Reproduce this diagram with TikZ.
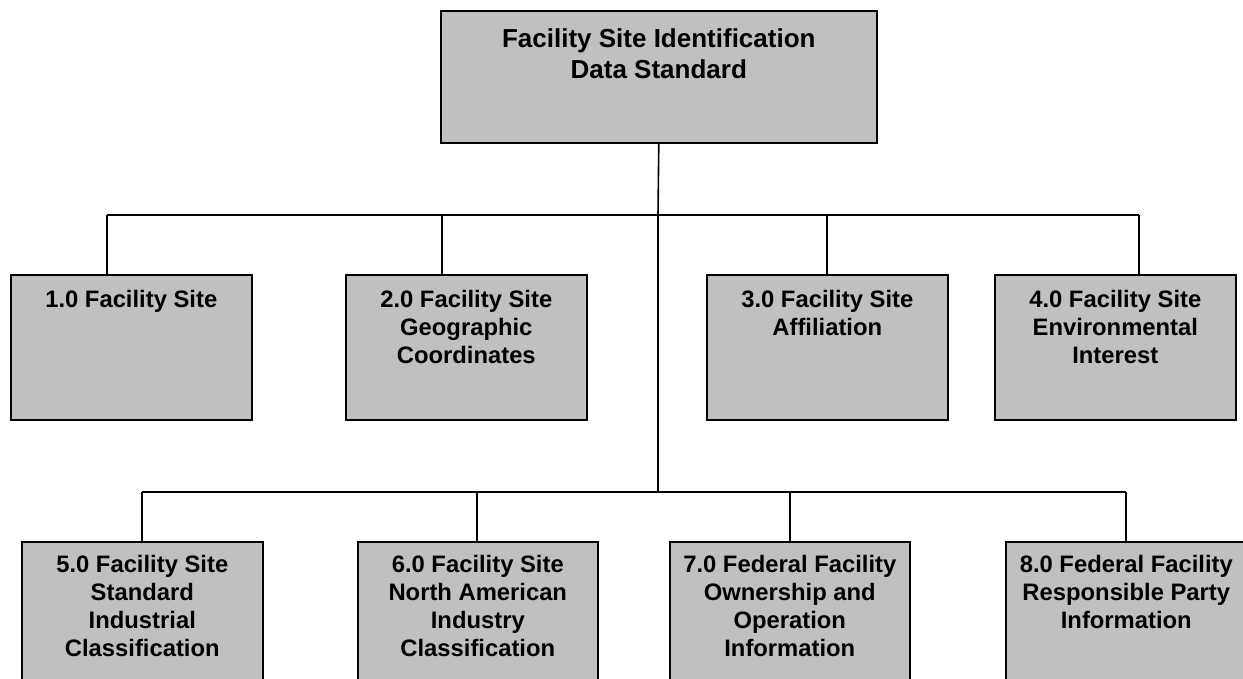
\documentclass[tikz,border=0pt]{standalone}
\usepackage{fontspec}
\setmainfont{Liberation Sans}
\usetikzlibrary{positioning}
\definecolor{boxgray}{RGB}{192,192,192}
\begin{document}
\begin{tikzpicture}[x=1pt,y=-1pt,
  box/.style={draw=black,fill=boxgray,line width=1.6pt,inner sep=0pt,anchor=north west},
  lbl/.style={font=\bfseries\fontsize{23.8}{28}\selectfont,align=center,inner sep=0pt},
  toplbl/.style={font=\bfseries\fontsize{26}{31}\selectfont,align=center,inner sep=0pt},
  conn/.style={line width=1.6pt}]
\fill[white] (0,0) rectangle (1243,679);
\useasboundingbox (0,0) rectangle (1243,679);
\clip (0,0) rectangle (1243,679);
% boxes
\node[box,minimum width=436pt,minimum height=132pt] (top) at (440,10) {};
\node[box,minimum width=241pt,minimum height=145pt] (b1) at (10,274) {};
\node[box,minimum width=241pt,minimum height=145pt] (b2) at (345,274) {};
\node[box,minimum width=241pt,minimum height=145pt] (b3) at (706,274) {};
\node[box,minimum width=241pt,minimum height=145pt] (b4) at (994,274) {};
\node[box,minimum width=241pt,minimum height=160pt] (b5) at (21,541) {};
\node[box,minimum width=240pt,minimum height=160pt] (b6) at (357,541) {};
\node[box,minimum width=240pt,minimum height=160pt] (b7) at (669,541) {};
\node[box,minimum width=241pt,minimum height=160pt] (b8) at (1005,541) {};
% labels
\node[toplbl,below=18pt of top.north] (topt) {Facility Site Identification\\Data Standard};
\node[lbl,below=16.5pt of b1.north] (b1t) {1.0 Facility Site};
\node[lbl,below=16.5pt of b2.north] (b2t) {2.0 Facility Site\\Geographic\\Coordinates};
\node[lbl,below=16.5pt of b3.north] (b3t) {3.0 Facility Site\\Affiliation};
\node[lbl,below=16.5pt of b4.north] (b4t) {4.0 Facility Site\\Environmental\\Interest};
\node[lbl,below=14.5pt of b5.north] (b5t) {5.0 Facility Site\\Standard\\Industrial\\Classification};
\node[lbl,below=14.5pt of b6.north] (b6t) {6.0 Facility Site\\North American\\Industry\\Classification};
\node[lbl,below=14.5pt of b7.north] (b7t) {7.0 Federal Facility\\Ownership and\\Operation\\Information};
\node[lbl,below=14.5pt of b8.north] (b8t) {8.0 Federal Facility\\Responsible Party\\Information};
% connector coordinates
\coordinate (j1) at (658,215);
\coordinate (j2) at (658,492);
\coordinate (d1) at (107,215);
\coordinate (d2) at (442,215);
\coordinate (d3) at (827,215);
\coordinate (d4) at (1139,215);
\coordinate (e5) at (142,492);
\coordinate (e6) at (477,492);
\coordinate (e7) at (790,492);
\coordinate (e8) at (1126,492);
% connectors
\draw[conn] (top.south) -- (j1) -- (j2);
\draw[conn] (d1) -- (d4);
\draw[conn] (e5) -- (e8);
\draw[conn] (d1) -- (d1 |- b1.north);
\draw[conn] (d2) -- (d2 |- b2.north);
\draw[conn] (d3) -- (d3 |- b3.north);
\draw[conn] (d4) -- (d4 |- b4.north);
\draw[conn] (e5) -- (e5 |- b5.north);
\draw[conn] (e6) -- (e6 |- b6.north);
\draw[conn] (e7) -- (e7 |- b7.north);
\draw[conn] (e8) -- (e8 |- b8.north);
\end{tikzpicture}
\end{document}
